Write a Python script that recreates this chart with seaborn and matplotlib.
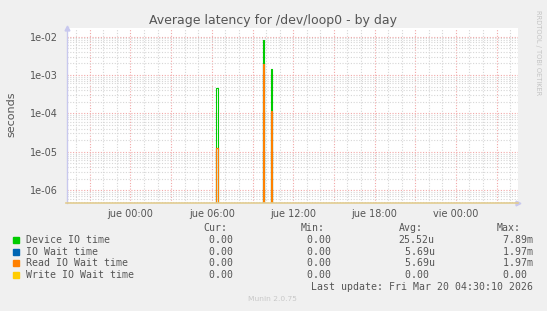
import numpy as np
import pandas as pd
import matplotlib
matplotlib.use("Agg")
import matplotlib.pyplot as plt
from matplotlib.ticker import MultipleLocator, FuncFormatter, LogLocator, NullFormatter
import seaborn as sns

# ---------------- data ----------------
sample_hours = [-4.75, 6.333, 6.417, 9.75, 9.833, 10.333, 10.417, 28.58]
device_io = [0, 4.53e-4, 0, 7.89e-3, 0, 1.41e-3, 0, 0]
io_wait = [0, 1.24e-5, 0, 1.97e-3, 0, 1.16e-4, 0, 0]
read_io_wait = [0, 1.24e-5, 0, 1.97e-3, 0, 1.16e-4, 0, 0]
write_io_wait = [0, 0, 0, 0, 0, 0, 0, 0]

series_names = ["Device IO time", "IO Wait time", "Read IO Wait time", "Write IO Wait time"]
series_colors = ["#00CC00", "#0066B3", "#FF8000", "#FFCC00"]
cur_vals = [0.0, 0.0, 0.0, 0.0]
min_vals = [0.0, 0.0, 0.0, 0.0]
avg_vals = [25.52, 5.69, 5.69, 0.0]
avg_units = ["u", "u", "u", " "]
max_vals = [7.89, 1.97, 1.97, 0.0]
max_units = ["m", "m", "m", " "]

tick_hours = [0, 6, 12, 18, 24]
x_tick_labels = ["jue 00:00", "jue 06:00", "jue 12:00", "jue 18:00", "vie 00:00"]

title = "Average latency for /dev/loop0 - by day"
y_label = "seconds"
last_update = "Last update: Fri Mar 20 04:30:10 2026"
munin_ver = "Munin 2.0.75"
watermark = "RRDTOOL / TOBI OETIKER"

# ---------------- build frame ----------------
values = [device_io, io_wait, read_io_wait, write_io_wait]
df = pd.concat(
    [pd.DataFrame({"hour": sample_hours, "value": v, "series": n})
     for n, v in zip(series_names, values)],
    ignore_index=True,
)

W, H = 547, 311
fig = plt.figure(figsize=(W / 100, H / 100), dpi=100, facecolor="#F0F0F0")
L, R, T, B = 66.5, 518, 27.7, 203.3
ax = fig.add_axes([L / W, 1 - B / H, (R - L) / W, (B - T) / H])
ax.set_facecolor("white")

sns.lineplot(data=df, x="hour", y="value", hue="series", hue_order=series_names,
             palette=series_colors, estimator=None, sort=False, legend=False,
             drawstyle="steps-post", linewidth=0.8, ax=ax)

ax.set_yscale("log", nonpositive="clip")
ax.set_ylim(10 ** -6.34, 10 ** -1.77)
ax.set_xlim(-4.72, 28.58)

# axes/grid
ax.xaxis.set_major_locator(MultipleLocator(3))
ax.xaxis.set_minor_locator(MultipleLocator(1))
lab_map = dict(zip(tick_hours, x_tick_labels))
ax.xaxis.set_major_formatter(FuncFormatter(lambda v, p: lab_map.get(int(round(v)), "") if abs(v - round(v)) < 1e-6 else ""))
ax.yaxis.set_major_locator(LogLocator(base=10, numticks=20))
ax.yaxis.set_minor_locator(LogLocator(base=10, subs=np.arange(2, 10), numticks=20))
ax.yaxis.set_major_formatter(FuncFormatter(lambda v, p: f"{v:.0e}"))
ax.yaxis.set_minor_formatter(NullFormatter())

ax.set_axisbelow(True)
ax.grid(which="major", color="#F2A8A8", linestyle=(0, (1, 1.5)), linewidth=0.8)
ax.grid(which="minor", color="#D6D6D6", linestyle=(0, (1, 1.5)), linewidth=0.8)
ax.tick_params(which="both", length=0)
ax.tick_params(axis="x", pad=4, labelsize=7, labelcolor="#555555")
ax.tick_params(axis="y", pad=6, labelsize=7, labelcolor="#555555")
ax.set_xlabel("")
ax.set_ylabel("")

for s in ["top", "right"]:
    ax.spines[s].set_visible(False)
ax.spines["left"].set_color("#C8C8EE")
ax.spines["left"].set_linewidth(1.0)
ax.spines["bottom"].set_color("#E2CC90")
ax.spines["bottom"].set_linewidth(1.2)
ax.plot([0], [1.0], marker="^", color="#C8C8EE", markersize=3.5, transform=ax.transAxes, clip_on=False)
ax.plot([1.0], [0], marker=">", color="#C8C8EE", markersize=3.5, transform=ax.transAxes, clip_on=False)

def fx(x):
    return x / W

def fy(y):
    return 1 - y / H

txt = "#555555"
fig.text(fx(273.2), fy(24), title, ha="center", va="baseline", fontsize=9, color=txt,
         family="DejaVu Sans")
fig.text(fx(11.2), fy(114), y_label, ha="center", va="center", rotation=90, fontsize=8,
         color=txt, family="DejaVu Sans")
fig.text(fx(538), fy(53), watermark, ha="center", va="center", rotation=270, fontsize=4.8,
         color="#C4C4C4", family="DejaVu Sans")

mono = "DejaVu Sans Mono"
lfs = 7.1
col_x = [203, 301, 398.7, 497]
headers = ["Cur:", "Min:", "Avg:", "Max:"]
for cx, h in zip(col_x, headers):
    fig.text(fx(cx), fy(227.7), h, ha="left", va="center", fontsize=lfs, color=txt, family=mono)

row_y = [240, 251.7, 263.3, 275.3]
for i, name in enumerate(series_names):
    y = row_y[i]
    fig.patches.append(plt.Rectangle((fx(13.3), fy(y + 3)), 6 / W, 6 / H,
                                     transform=fig.transFigure, color=series_colors[i]))
    fig.text(fx(26.2), fy(y), name, ha="left", va="center", fontsize=lfs, color=txt, family=mono)
    cells = [f"{cur_vals[i]:5.2f} ", f"{min_vals[i]:5.2f} ",
             f"{avg_vals[i]:5.2f}{avg_units[i]}", f"{max_vals[i]:5.2f}{max_units[i]}"]
    for cx, c in zip(col_x, cells):
        fig.text(fx(cx), fy(y), c, ha="left", va="center", fontsize=lfs, color=txt, family=mono)

fig.text(fx(532.6), fy(287.3), last_update, ha="right", va="center", fontsize=lfs, color=txt,
         family=mono)
fig.text(fx(272.8), fy(299.3), munin_ver, ha="center", va="center", fontsize=5.4,
         color="#C8C8C8", family="DejaVu Sans")

fig.savefig("out.png", dpi=100, facecolor=fig.get_facecolor())
